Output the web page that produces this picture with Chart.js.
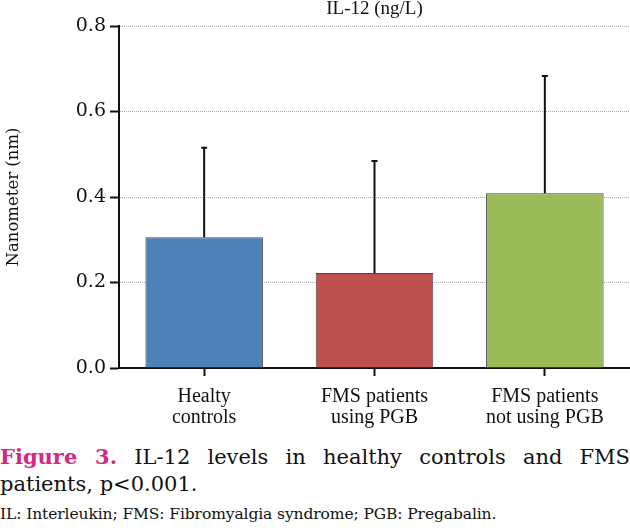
<!DOCTYPE html>
<html>
<head>
<meta charset="utf-8">
<script src="https://cdn.jsdelivr.net/npm/chart.js@4/dist/chart.umd.min.js"></script>
<style>
  html, body { margin: 0; padding: 0; background: #fff; }
  #wrap { width: 630px; height: 530px; position: relative; overflow: hidden; }
  #box { width: 630px; height: 430px; position: relative; }
  .cap { font-family: "DejaVu Serif", serif; font-size: 21px; color: #111; width: 630px; line-height: 27px; }
  .cap1 { text-align: justify; text-align-last: justify; margin-top: 13px; }
  .cap b { color: #d6287d; }
  .note { font-family: "DejaVu Serif", serif; font-size: 15.5px; color: #111; margin-top: 7px; letter-spacing: -0.1px; }
</style>
</head>
<body>
<div id="wrap">
  <div id="box"><canvas id="c"></canvas></div>
  <div class="cap cap1"><b>Figure 3.</b> IL-12 levels in healthy controls and FMS</div>
  <div class="cap">patients, p&lt;0.001.</div>
  <div class="note">IL: Interleukin; FMS: Fibromyalgia syndrome; PGB: Pregabalin.</div>
</div>
<script>
const groups = [["Healty", "controls"], ["FMS patients", "using PGB"], ["FMS patients", "not using PGB"]];
const means = [0.306, 0.222, 0.409];
const sdTop = [0.515, 0.484, 0.683];
const barColors = ["#4f81b9", "#c0504d", "#9bbb59"];
const yTicks = [0, 0.2, 0.4, 0.6, 0.8];

// error bars (upper only, small cap)
const errorBars = {
  id: "errorBars",
  afterDatasetsDraw(chart) {
    const { ctx, scales: { x, y } } = chart;
    ctx.save();
    ctx.strokeStyle = "#111";
    ctx.lineWidth = 2;
    sdTop.forEach((v, i) => {
      const px = x.getPixelForValue(i);
      const y0 = y.getPixelForValue(means[i]);
      const y1 = y.getPixelForValue(v);
      ctx.beginPath();
      ctx.moveTo(px, y0);
      ctx.lineTo(px, y1);
      ctx.moveTo(px - 3, y1);
      ctx.lineTo(px + 3, y1);
      ctx.stroke();
    });
    ctx.restore();
  }
};

const topTitle = {
  id: "topTitle",
  afterDraw(chart) {
    const { ctx, chartArea } = chart;
    ctx.save();
    ctx.font = '19px "Liberation Serif", serif';
    ctx.fillStyle = "#111";
    ctx.textAlign = "center";
    ctx.textBaseline = "middle";
    ctx.fillText("IL-12 (ng/L)", (chartArea.left + chartArea.right) / 2, 9);
    ctx.restore();
  }
};

new Chart(document.getElementById("c"), {
  type: "bar",
  data: {
    labels: groups,
    datasets: [{
      data: means,
      backgroundColor: barColors,
      borderColor: "#444",
      borderWidth: 1,
      categoryPercentage: 1,
      barPercentage: 0.69,
    }],
  },
  options: {
    responsive: true,
    maintainAspectRatio: false,
    animation: false,
    layout: { padding: { top: 26, right: 0, left: 0, bottom: 0 } },
    plugins: { legend: { display: false }, tooltip: { enabled: false }, title: { display: false } },
    scales: {
      x: {
        afterFit(s) { s.height = 62; },
        grid: { drawOnChartArea: false, offset: false, tickLength: 8, tickColor: "#111", tickWidth: 2 },
        border: { color: "#111", width: 2 },
        ticks: { color: "#111", padding: 10, font: { family: '"Liberation Serif", serif', size: 20, lineHeight: 1.05 } },
      },
      y: {
        min: 0, max: 0.8,
        afterFit(s) { s.width = 119; },
        afterBuildTicks(s) { s.ticks = yTicks.map(v => ({ value: v })); },
        grid: { color: "#aaa", lineWidth: 1, tickLength: 9, tickColor: "#111", tickWidth: 2 },
        border: { color: "#111", width: 2, dash: [1, 1] },
        ticks: {
          color: "#111", padding: 4,
          font: { family: '"DejaVu Serif", serif', size: 19 },
          callback: v => Number(v).toFixed(1),
        },
        title: {
          display: true, text: "Nanometer (nm)", color: "#111", padding: { top: 4, bottom: 10 },
          font: { family: '"DejaVu Serif", serif', size: 16.5 },
        },
      },
    },
  },
  plugins: [errorBars, topTitle],
});
</script>
</body>
</html>
